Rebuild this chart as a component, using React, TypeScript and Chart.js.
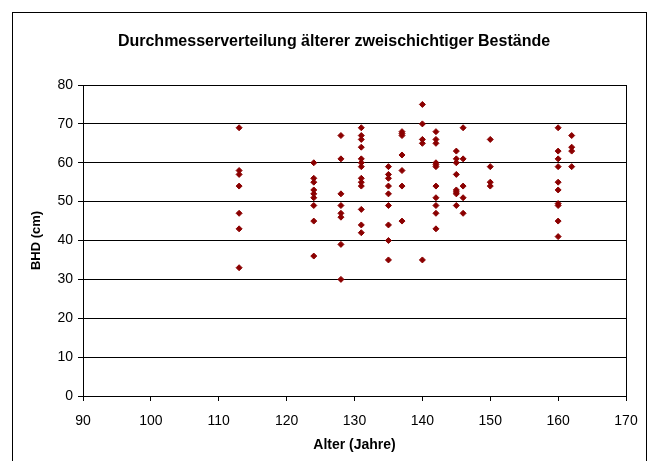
import { useEffect, useRef } from 'react';
import { Chart, registerables } from 'chart.js';

Chart.register(...registerables);

const chartTitle = 'Durchmesserverteilung älterer zweischichtiger Bestände';
const xAxisTitle = 'Alter (Jahre)';
const yAxisTitle = 'BHD (cm)';

const ages = [113, 124, 128, 131, 135, 137, 140, 142, 145, 146, 150, 160, 162];
const bhd113 = [69, 58, 57, 54, 47, 43, 33];
const bhd124 = [60, 56, 55, 53, 52, 51, 49, 45, 36];
const bhd128 = [67, 61, 52, 49, 47, 46, 39, 30];
const bhd131 = [69, 67, 66, 64, 61, 60, 59, 56, 55, 54, 48, 44, 42];
const bhd135 = [59, 57, 56, 54, 52, 49, 44, 40, 35];
const bhd137 = [68, 67.5, 67, 62, 58, 54, 45];
const bhd140 = [75, 70, 66, 65, 35];
const bhd142 = [68, 66, 65, 60, 59.5, 59, 54, 51, 49, 47, 43];
const bhd145 = [63, 61, 60, 57, 53, 52.5, 52, 49];
const bhd146 = [69, 61, 54, 51, 47];
const bhd150 = [66, 59, 55, 54];
const bhd160 = [69, 63, 61, 59, 55, 53, 49.5, 49, 45, 41];
const bhd162 = [67, 64, 63, 59];
const bhdByAge = [bhd113, bhd124, bhd128, bhd131, bhd135, bhd137, bhd140, bhd142, bhd145, bhd146, bhd150, bhd160, bhd162];

const FONT = "'Liberation Sans', Arial, Helvetica, sans-serif";

const framePlugin = {
  id: 'outerFrame',
  afterDraw(chart: any) {
    const ctx = chart.ctx;
    ctx.save();
    ctx.strokeStyle = '#000';
    ctx.lineWidth = 1;
    ctx.strokeRect(12.5, 12.5, 634, 470);
    ctx.restore();
  },
};

export default function App() {
  const ref = useRef<HTMLCanvasElement | null>(null);
  useEffect(() => {
    document.body.style.margin = '0';
    const points: { x: number; y: number }[] = [];
    ages.forEach((a, i) => bhdByAge[i].forEach((d) => points.push({ x: a, y: d })));
    const chart = new Chart(ref.current as HTMLCanvasElement, {
      type: 'scatter',
      data: {
        datasets: [
          {
            data: points,
            backgroundColor: '#8B0000',
            borderColor: '#8B0000',
            borderWidth: 1,
            pointStyle: 'rectRot',
            pointRadius: 3,
          },
        ],
      },
      options: {
        responsive: false,
        animation: false,
        layout: { padding: { left: 25, right: 13, top: 12, bottom: 3.6 } },
        plugins: {
          legend: { display: false },
          tooltip: { enabled: false },
          title: {
            display: true,
            text: chartTitle,
            color: '#000',
            font: { family: FONT, size: 16, weight: 'bold' },
            padding: { top: 20.4, bottom: 33.4 },
          },
        },
        scales: {
          x: {
            type: 'linear',
            min: 90,
            max: 170,
            afterFit: (s: any) => { s.height = 61.4; },
            ticks: { stepSize: 10, color: '#000', font: { family: FONT, size: 14 }, padding: 12, maxRotation: 0 },
            grid: { drawOnChartArea: false, drawTicks: true, tickLength: 5, color: '#000' },
            border: { color: '#000', width: 1 },
            title: { display: true, text: xAxisTitle, color: '#000', font: { family: FONT, size: 14, weight: 'bold' } },
          },
          y: {
            type: 'linear',
            min: 0,
            max: 80,
            afterFit: (s: any) => { s.width = 58; },
            ticks: { stepSize: 10, color: '#000', font: { family: FONT, size: 14 }, padding: 5 },
            grid: { color: '#000', tickLength: 5 },
            border: { color: '#000', width: 1 },
            title: { display: true, text: yAxisTitle, color: '#000', font: { family: FONT, size: 13, weight: 'bold' } },
          },
          y2: {
            type: 'linear',
            position: 'right',
            afterFit: (s: any) => { s.width = 17; },
            ticks: { display: false },
            grid: { display: false },
            border: { display: true, color: '#000', width: 1 },
          },
        },
      },
      plugins: [framePlugin],
    } as any);
    return () => chart.destroy();
  }, []);
  return (
    <div style={{ width: 656, height: 461 }}>
      <canvas ref={ref} width={656} height={461} style={{ display: 'block' }} />
    </div>
  );
}
